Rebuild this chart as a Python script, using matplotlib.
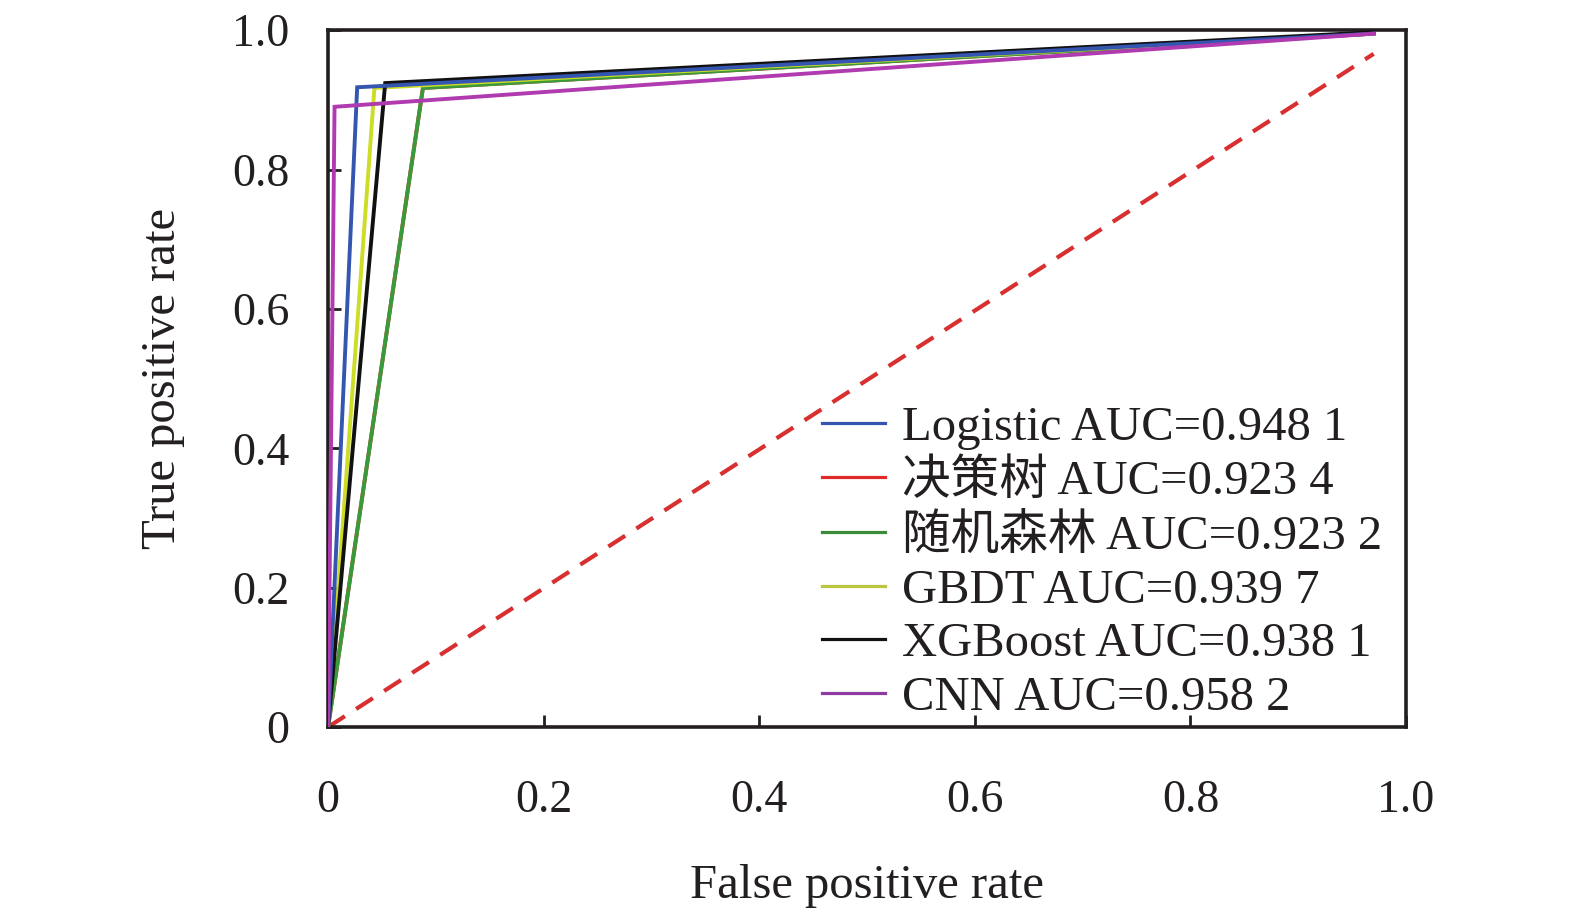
import numpy as np
import matplotlib
matplotlib.use("Agg")
import matplotlib.pyplot as plt

plt.rcParams['font.family'] = ['Liberation Serif', 'Noto Sans CJK SC']

# ROC data: (0,0) -> corner -> end
models = ['Logistic', '决策树', '随机森林', 'GBDT', 'XGBoost', 'CNN']
aucs = ['0.948 1', '0.923 4', '0.923 2', '0.939 7', '0.938 1', '0.958 2']
fpr_corner = [0.027, 0.088, 0.088, 0.043, 0.053, 0.006]
tpr_corner = [0.918, 0.917, 0.917, 0.917, 0.924, 0.890]
fpr_end = 0.970
tpr_end = [0.995, 0.995, 0.995, 0.995, 0.997, 0.995]
line_colors = ['#3456b0', '#e02a2a', '#3a9a3a', '#cddc25', '#111111', '#b03ab0']
legend_colors = ['#3456b0', '#e02a2a', '#3a8a3a', '#bcc540', '#111111', '#8e3aa0']
draw_order = [1, 2, 3, 4, 0, 5]

diag_x = [0.0, 0.970]
diag_y = [0.0, 0.966]

fig = plt.figure(figsize=(15.75, 9.13), dpi=100)
ax = fig.add_axes([0.2083, 0.2037, 0.6844, 0.7633])

handles = [None] * len(models)
for i in draw_order:
    xs = [0.0, fpr_corner[i], fpr_end]
    ys = [0.0, tpr_corner[i], tpr_end[i]]
    ax.plot(xs, ys, color=line_colors[i], lw=2.8, solid_joinstyle='miter', zorder=3)
    h, = ax.plot([], [], color=legend_colors[i], lw=2.3)
    handles[i] = h

ax.plot(diag_x, diag_y, color='#d83030', lw=3.0, ls=(0, (4.8, 3.2)), zorder=2)

ax.set_xlim(0, 1)
ax.set_ylim(0, 1)
ticks = [0, 0.2, 0.4, 0.6, 0.8, 1.0]
tick_labels = ['0', '0.2', '0.4', '0.6', '0.8', '1.0']
ax.set_xticks(ticks)
ax.set_xticklabels(tick_labels)
ax.set_yticks(ticks)
ax.set_yticklabels(tick_labels)
ax.tick_params(axis='x', direction='in', length=9, width=2, labelsize=33, pad=38, colors='#231f20')
ax.tick_params(axis='y', direction='in', length=9, width=2, labelsize=33, pad=28, colors='#231f20')
for s in ax.spines.values():
    s.set_linewidth(2.6)
    s.set_color('#231f20')

ax.set_xlabel('False positive rate', fontsize=35, color='#231f20', labelpad=30)
ax.set_ylabel('True positive rate', fontsize=35, color='#231f20', labelpad=34)

labels = [m + ' AUC=' + a for m, a in zip(models, aucs)]
ax.legend(handles, labels, loc='lower left', bbox_to_anchor=(0.4265, -0.039),
          frameon=False, fontsize=35, handlelength=1.3, handletextpad=0.35,
          labelspacing=0.2, borderpad=0.2, labelcolor='#231f20')

fig.savefig('out.png', dpi=100)
